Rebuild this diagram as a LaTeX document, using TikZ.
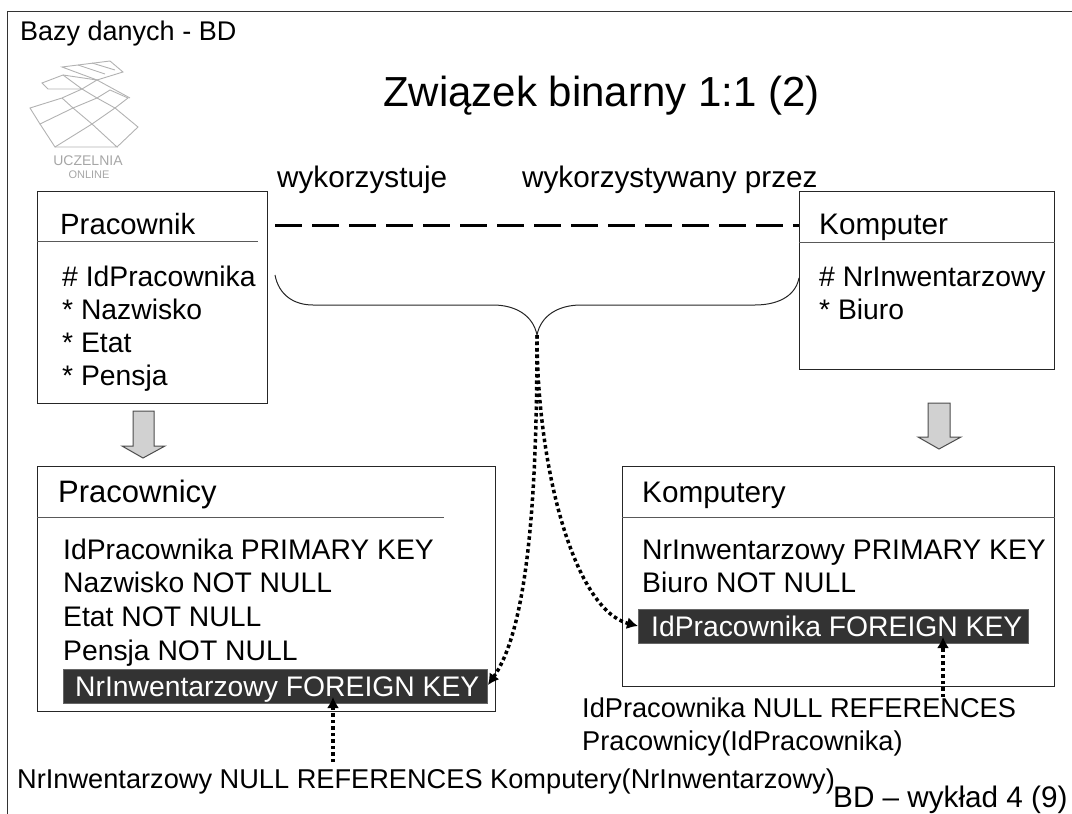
\documentclass[tikz,border=0pt]{standalone}
\usepackage{fontspec}
\setmainfont{Liberation Sans}
\usetikzlibrary{arrows.meta}
\tikzset{
  box/.style={draw=black!85, line width=1pt, anchor=north west, inner sep=0pt},
  txt/.style={anchor=base west, inner sep=0pt, font=\fontsize{28.3}{28.3}\selectfont},
  hdtxt/.style={txt, font=\fontsize{29.7}{29.7}\selectfont},
  reftxt/.style={txt, font=\fontsize{27.2}{27.2}\selectfont},
  fktxt/.style={txt, text=white},
  fkbox/.style={draw=black!60, fill=black!80, line width=1pt, anchor=north west, inner sep=0pt},
  hdr/.style={draw=black!65, line width=1pt},
  down/.style={draw=black!70, fill=black!18, line width=1pt},
  refline/.style={line width=3.5pt, dash pattern=on 3.5pt off 3pt, -{Latex[length=11pt,width=12pt]}},
  logoline/.style={draw=black!30, line width=.9pt}
}
\begin{document}
\begin{tikzpicture}[x=1pt,y=-1pt]
    \useasboundingbox (0,0) rectangle (1072,814);
    % frame
    \coordinate (frameA) at (7,814);
    \coordinate (frameB) at (7,11);
    \coordinate (frameC) at (1072,11);
    \draw[black!80, line width=1pt] (frameA) -- (frameB) -- (frameC);
    \node[txt, font=\fontsize{27}{27}\selectfont] (course) at (20,40) {Bazy danych - BD};
    \node[txt, font=\fontsize{42}{42}\selectfont] (title) at (383,106) {Związek binarny 1:1 (2)};
    % logo
    \draw[logoline] (30,108) -- (62,98) -- (82,89) -- (97,98) -- (73,108) -- (40,124) -- cycle;
    \draw[logoline] (62,98) -- (73,108) -- (92,124) -- (55,147) -- (40,124);
    \draw[logoline] (97,98) -- (115,108) -- (92,124) -- (117,147) -- (55,147);
    \draw[logoline] (115,108) -- (138,127) -- (117,147);
    \draw[logoline] (97,98) -- (110,90) -- (128,98) -- (115,108);
    \draw[logoline] (42,83) -- (63,75) -- (82,89) -- (48,89) -- cycle;
    \draw[logoline] (63,75) -- (97,80) -- (82,89);
    \draw[logoline] (62,67) -- (110,61) -- (123,72) -- (97,80) -- cycle;
    \draw[logoline] (97,80) -- (130,98);
    \draw[logoline] (78,65) -- (105,74);
    \draw[logoline] (92,63) -- (115,70);
    \node[anchor=center, inner sep=0pt, text=black!35, font=\fontsize{14}{14}\selectfont] (logoA) at (88,161) {UCZELNIA};
    \node[anchor=center, inner sep=0pt, text=black!35, font=\fontsize{11}{11}\selectfont] (logoB) at (89,175) {ONLINE};
    % entities
    \node[box, minimum width=230pt, minimum height=212pt] (pracownik) at (37,191) {};
    \node[box, minimum width=255pt, minimum height=178pt] (komputer) at (799,191) {};
    \node[box, minimum width=458pt, minimum height=245pt] (pracownicy) at (37,466) {};
    \node[box, minimum width=432pt, minimum height=220pt] (komputery) at (622,466) {};
    \draw[hdr] (pracownik.west |- 0,241) -- (258,241);
    \draw[hdr] (komputer.west |- 0,242) -- (komputer.east |- 0,242);
    \draw[hdr] (pracownicy.west |- 0,517) -- (444,517);
    \draw[hdr] (komputery.west |- 0,517) -- (komputery.east |- 0,517);
    \node[hdtxt, font=\fontsize{29.3}{29.3}\selectfont] (pracownikN) at (60,234) {Pracownik};
    \node[txt] (pracownikA) at (62,286) {\# IdPracownika};
    \node[txt] (pracownikB) at (62,319) {* Nazwisko};
    \node[txt] (pracownikC) at (62,352) {* Etat};
    \node[txt] (pracownikD) at (62,385) {* Pensja};
    \node[hdtxt] (komputerN) at (819,234) {Komputer};
    \node[txt] (komputerA) at (819,286) {\# NrInwentarzowy};
    \node[txt] (komputerB) at (819,319) {* Biuro};
    \node[hdtxt, font=\fontsize{31}{31}\selectfont] (pracownicyN) at (58,502) {Pracownicy};
    \node[txt] (pracownicyA) at (63,559) {IdPracownika PRIMARY KEY};
    \node[txt] (pracownicyB) at (63,592) {Nazwisko NOT NULL};
    \node[txt] (pracownicyC) at (63,626) {Etat NOT NULL};
    \node[txt] (pracownicyD) at (63,660) {Pensja NOT NULL};
    \node[hdtxt] (komputeryN) at (642,502) {Komputery};
    \node[txt] (komputeryA) at (642,559) {NrInwentarzowy PRIMARY KEY};
    \node[txt] (komputeryB) at (642,592) {Biuro NOT NULL};
    % foreign keys
    \node[fkbox, minimum width=424pt, minimum height=34pt] (fkA) at (63,669) {};
    \node[fkbox, minimum width=390pt, minimum height=34pt] (fkB) at (638,609) {};
    \node[fktxt] (fkAT) at (75,696) {NrInwentarzowy FOREIGN KEY};
    \node[fktxt] (fkBT) at (651,636) {IdPracownika FOREIGN KEY};
    % relation
    \node[hdtxt] (roleA) at (277,187) {wykorzystuje};
    \node[hdtxt] (roleB) at (522,187) {wykorzystywany przez};
    \coordinate (relL) at (275,225);
    \draw[line width=3pt, dash pattern=on 27pt off 10pt] (relL) -- (relL -| komputer.west);
    % brace
    \coordinate (braceTip) at (537,335);
    \coordinate (braceL) at (275,275);
    \coordinate (braceR) at (799,278);
    \draw[black!85, line width=1pt] (braceL) .. controls (279,296) and (295,305) .. (313,305) -- (493,305)
      .. controls (515,305) and (533,315) .. (braceTip)
      .. controls (541,315) and (559,305) .. (581,305) -- (755,305)
      .. controls (775,305) and (795,298) .. (braceR);
    % references
    \coordinate (refA) at (333,762);
    \coordinate (refB) at (943,697);
    \draw[refline] (braceTip) .. controls (537,480) and (530,625) .. (fkA.east |- 0,685);
    \draw[refline] (braceTip) .. controls (537,470) and (575,610) .. (fkB.west |- 0,626);
    \draw[refline] (refA) -- (refA |- 0,697);
    \draw[refline] (refB) -- (refB |- 0,637);
    \node[reftxt] (refAT) at (17,788) {NrInwentarzowy NULL REFERENCES Komputery(NrInwentarzowy)};
    \node[reftxt] (refBT) at (582,717) {IdPracownika NULL REFERENCES};
    \node[reftxt] (refCT) at (582,750) {Pracownicy(IdPracownika)};
    \node[hdtxt] (footer) at (833,807) {BD – wykład 4 (9)};
    % mapping arrows
    \draw[down] (133,411) -- (154,411) -- (154,446) -- (165,446) -- (143,458) -- (122,446) -- (133,446) -- cycle;
    \draw[down] (928,403) -- (950,403) -- (950,437) -- (961,437) -- (939,449) -- (918,437) -- (928,437) -- cycle;
\end{tikzpicture}
\end{document}
